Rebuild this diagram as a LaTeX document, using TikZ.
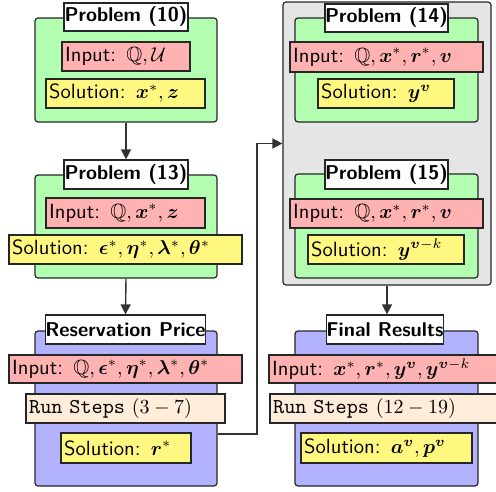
\documentclass[tikz,border=0pt]{standalone}
\usepackage{amsmath,amssymb,bm}
\usetikzlibrary{arrows.meta}
\renewcommand{\familydefault}{\sfdefault}
\newcommand{\bv}[1]{\boldsymbol{#1}}
\newcommand{\runtt}[1]{{\fontsize{10.6}{13}\selectfont\texttt{#1}}}
\begin{document}
\begin{tikzpicture}[x=0.5pt,y=-0.5pt,
  frame/.style={draw=black!85,line width=0.6pt,rounded corners=1.5pt,inner sep=0pt},
  greenbox/.style={frame,fill=green!30},
  bluebox/.style={frame,fill=blue!30},
  graybox/.style={frame,fill=black!10},
  tbox/.style={draw=black!85,line width=0.6pt,inner xsep=1.6pt,inner ysep=0pt,align=left,font=\fontsize{10.3}{12.5}\selectfont},
  titlebox/.style={draw=black!85,line width=0.6pt,fill=white,inner sep=0pt,font=\bfseries},
  inputbox/.style={tbox,fill=red!30},
  solbox/.style={tbox,fill=yellow!50},
  runbox/.style={tbox,fill=orange!15},
  arr/.style={draw=black!80,line width=0.7pt,-{Triangle[width=5pt,length=5pt]}}]
\useasboundingbox (0,0) rectangle (496,491);
% ---------- left column ----------
\node[greenbox,minimum width=91pt,minimum height=52pt] (g1) at (126,70) {};
\node[inputbox,minimum height=14.5pt,text width=60.8pt] (i1) at (126,56.5) {\mbox{Input: $\mathbb{Q},\mathcal{U}$}};
\node[solbox,minimum height=14.5pt,text width=76.3pt] (s1) at (125.5,93.5) {\mbox{Solution: $\bv{x}^*,\bv{z}$}};
\node[titlebox,minimum width=62pt,minimum height=14pt] (t1) at (126,17) {Problem (10)};

\node[greenbox,minimum width=91pt,minimum height=51.5pt] (g2) at (126,226.5) {};
\node[inputbox,minimum height=15pt,text width=76.3pt] (i2) at (125.5,213) {\mbox{Input: $\mathbb{Q},\bv{x}^*,\bv{z}$}};
\node[solbox,minimum height=14.5pt,text width=113.3pt] (s2) at (125.5,249.5) {\mbox{Solution: $\bv{\epsilon}^*,\bv{\eta}^*,\bv{\lambda}^*,\bv{\theta}^*$}};
\node[titlebox,minimum width=62pt,minimum height=14.5pt] (t2) at (126,174.5) {Problem (13)};

\node[bluebox,minimum width=91pt,minimum height=77.5pt] (b1) at (126,408.5) {};
\node[inputbox,minimum height=14pt,text width=113.3pt] (i3) at (125.5,369) {\mbox{Input: $\mathbb{Q},\bv{\epsilon}^*,\bv{\eta}^*,\bv{\lambda}^*,\bv{\theta}^*$}};
\node[runbox,minimum height=14.5pt,text width=96.3pt] (r3) at (125.5,408.5) {\mbox{\runtt{Run Steps} $(3-7)$}};
\node[solbox,minimum height=15pt,text width=61.8pt] (s3) at (126,448) {\mbox{Solution: $\bv{r}^*$}};
\node[titlebox,minimum width=79.5pt,minimum height=14.5pt] (t3) at (125.5,329.5) {Reservation Price};

% ---------- right column ----------
\node[graybox,minimum width=104pt,minimum height=141.5pt] (gr) at (387,143.5) {};
\node[greenbox,minimum width=91.5pt,minimum height=52pt] (g3) at (386.5,70) {};
\node[inputbox,minimum height=15pt,text width=93.3pt] (i4) at (386.5,57) {\mbox{Input: $\mathbb{Q},\bv{x}^*,\bv{r}^*,\bv{v}$}};
\node[solbox,minimum height=14.5pt,text width=64.8pt] (s4) at (386,93.5) {\mbox{Solution: $\bv{y}^{\bv{v}}$}};
\node[titlebox,minimum width=61.5pt,minimum height=14pt] (t4) at (386.5,18) {Problem (14)};

\node[greenbox,minimum width=91.5pt,minimum height=52pt] (g4) at (386.5,226) {};
\node[inputbox,minimum height=14.5pt,text width=93.3pt] (i5) at (386.5,213.5) {\mbox{Input: $\mathbb{Q},\bv{x}^*,\bv{r}^*,\bv{v}$}};
\node[solbox,minimum height=14.5pt,text width=74.8pt] (s5) at (386,249.5) {\mbox{Solution: $\bv{y}^{\bv{v}-k}$}};
\node[titlebox,minimum width=61.5pt,minimum height=14.5pt] (t5) at (386.5,174.5) {Problem (15)};

\node[bluebox,minimum width=91.5pt,minimum height=77.5pt] (b2) at (386.5,408.5) {};
\node[inputbox,minimum height=14pt,text width=114.8pt] (i6) at (387,369) {\mbox{Input: $\bv{x}^*,\bv{r}^*,\bv{y}^{\bv{v}},\bv{y}^{\bv{v}-k}$}};
\node[runbox,minimum height=14.5pt,text width=113.8pt] (r6) at (387,408.5) {\mbox{\runtt{Run Steps} $(12-19)$}};
\node[solbox,minimum height=15pt,text width=82.3pt] (s6) at (386.5,448) {\mbox{Solution: $\bv{a}^{\bv{v}},\bv{p}^{\bv{v}}$}};
\node[titlebox,minimum width=58pt,minimum height=14.5pt] (t6) at (385,329.5) {Final Results};

% ---------- connectors ----------
\draw[arr] (g1.south) -- (t2.north);
\draw[arr] (g2.south) -- (t3.north);
\draw[arr] (gr.south) -- (gr.south |- t6.north);
\coordinate (c1) at (257,434);
\draw[arr] (b1.east |- c1) -- (c1) |- (gr.west);
\end{tikzpicture}
\end{document}
